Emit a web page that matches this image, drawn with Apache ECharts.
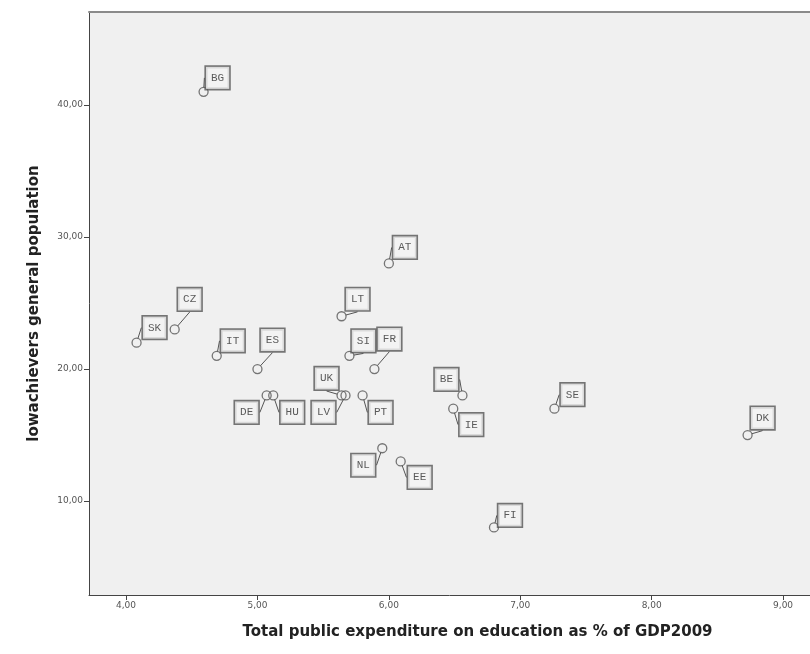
<!DOCTYPE html>
<html>
<head>
<meta charset="utf-8">
<script src="https://cdn.jsdelivr.net/npm/echarts@6/dist/echarts.min.js"></script>
<style>html,body{margin:0;padding:0;background:#fff;}#c{width:810px;height:654px;}</style>
</head>
<body>
<div id="c"></div>
<script>
// Data
var countries = ['BG','AT','LT','SI','FR','CZ','SK','IT','ES','DE','HU','UK','LV','PT','BE','IE','SE','DK','NL','EE','FI'];
var expenditure = [4.59,6.00,5.64,5.70,5.89,4.37,4.08,4.69,5.00,5.07,5.12,5.64,5.67,5.80,6.56,6.49,7.26,8.73,5.95,6.09,6.80];
var lowAchievers = [41,28,24,21,20,23,22,21,20,18,18,18,18,18,18,17,17,15,14,13,8];
var xTicks = [4,5,6,7,8,9];
var yTicks = [10,20,30,40];
// label placement (pixels, relative to point)
var labelDx = [14,16,16,14,15,15,18,16,15,-20,19,-15,-22,18,-16,18,18,15,-19,19,16];
var labelDy = [-14,-16,-17,-15,-30,-30,-15,-15,-29,17,17,-17,17,17,-16,16,-14,-17,17,16,-12];

var pts = countries.map(function(c,i){ return {name:c, value:[expenditure[i], lowAchievers[i]]}; });
var fmt = function(v){ return Number(v).toFixed(2).replace('.', ','); };

var chart = echarts.init(document.getElementById('c'));
chart.setOption({
  animation:false,
  backgroundColor:'#ffffff',
  grid:{left:89, right:0, top:12, bottom:59, show:true, backgroundColor:'#f0f0f0', borderWidth:0},
  xAxis:[{
    type:'value', min:3.718, max:9.205,
    name:'Total public expenditure on education as % of GDP2009',
    nameLocation:'middle', nameGap:30,
    nameTextStyle:{fontFamily:'DejaVu Sans', fontWeight:'bold', fontSize:15, color:'#222', padding:[0,0,0,56]},
    axisLine:{show:true, lineStyle:{color:'#444', width:1}},
    axisTick:{show:true, length:5, customValues:xTicks, lineStyle:{color:'#444'}},
    axisLabel:{customValues:xTicks, formatter:fmt, fontFamily:'DejaVu Sans', fontSize:9, color:'#555', margin:6},
    splitLine:{show:false}
  },{
    type:'value', position:'top', min:3.718, max:9.205,
    axisLine:{show:true, lineStyle:{color:'#8a8a8a', width:2}},
    axisTick:{show:false}, axisLabel:{show:false}, splitLine:{show:false}
  }],
  yAxis:{
    type:'value', min:2.88, max:47.05,
    name:'lowachievers general population',
    nameLocation:'middle', nameGap:47,
    nameTextStyle:{fontFamily:'DejaVu Sans', fontWeight:'bold', fontSize:15, color:'#222'},
    axisLine:{show:true, lineStyle:{color:'#444', width:1}},
    axisTick:{show:true, length:5, customValues:yTicks, lineStyle:{color:'#444'}},
    axisLabel:{customValues:yTicks, formatter:fmt, fontFamily:'DejaVu Sans', fontSize:9, color:'#555', margin:6},
    splitLine:{show:false}
  },
  series:[{
    type:'scatter',
    data:pts,
    symbol:'circle', symbolSize:9,
    itemStyle:{color:'rgba(0,0,0,0)', borderColor:'#555', borderWidth:1.3},
    label:{show:true, position:'inside', formatter:'{b}', fontFamily:'Liberation Mono', fontSize:11, color:'#333',
      backgroundColor:'#f4f4f4', borderColor:'#555', borderWidth:1.6, padding:[6,5,5,5]},
    labelLine:{show:true, lineStyle:{color:'#555', width:1}},
    labelLayout:function(p){ return {dx:labelDx[p.dataIndex], dy:labelDy[p.dataIndex]}; }
  }]
});
</script>
</body>
</html>
